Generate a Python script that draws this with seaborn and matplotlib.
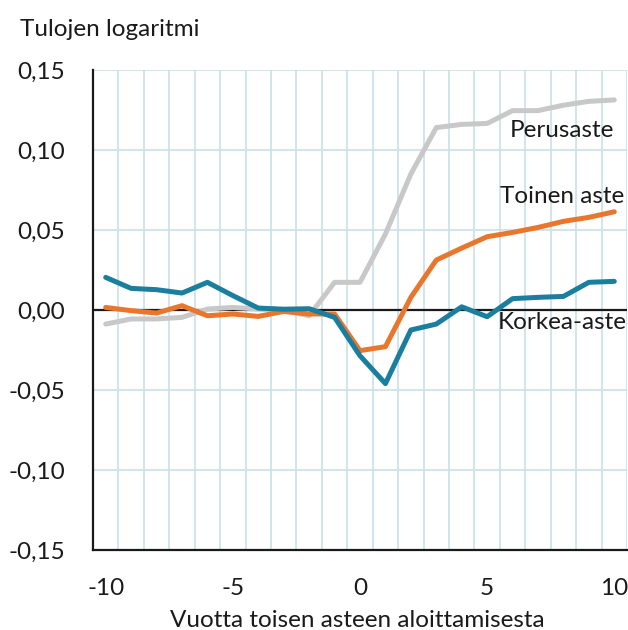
import numpy as np
import pandas as pd
import matplotlib.pyplot as plt
import seaborn as sns

# Data
vuodet = list(range(-10, 11))
perusaste = [-0.0088, -0.0056, -0.0056, -0.0046, 0.0006, 0.0016, 0.0006, -0.0004, -0.0036, 0.0173,
             0.0173, 0.0475, 0.085, 0.114, 0.116, 0.1166, 0.1246, 0.1246, 0.128, 0.1304, 0.1313]
toinen_aste = [0.0016, -0.0004, -0.0019, 0.0027, -0.0036, -0.0025, -0.004, -0.0009, -0.0025, -0.0025,
               -0.0254, -0.0229, 0.0079, 0.0312, 0.0387, 0.0458, 0.0485, 0.0516, 0.0554, 0.0579, 0.0614]
korkea_aste = [0.0204, 0.0135, 0.0127, 0.0106, 0.0173, 0.009, 0.0012, 0.0005, 0.0008, -0.0046,
               -0.0286, -0.046, -0.0125, -0.0088, 0.002, -0.0042, 0.0071, 0.0079, 0.0085, 0.0173, 0.0179]
sarjat = ['Perusaste', 'Toinen aste', 'Korkea-aste']
varit = ['#c8c8c8', '#e8762d', '#1a7f9e']
y_ticks = [-0.15, -0.10, -0.05, 0.0, 0.05, 0.10, 0.15]
# label positions (x, baseline y) next to line ends
nimi_pos = [(7.96, 0.1083), (7.96, 0.0666), (7.96, -0.0117)]

df = pd.DataFrame({
    'vuosi': vuodet * 3,
    'arvo': perusaste + toinen_aste + korkea_aste,
    'sarja': [s for s in sarjat for _ in vuodet],
})

sns.set_style('white')
plt.rcParams['font.family'] = ['Lato', 'DejaVu Sans']
fs = 17.5
txt = '#1a1a1a'

fig = plt.figure(figsize=(6.28, 6.30), dpi=100)
ax = fig.add_axes([93 / 628, 1 - 550 / 630, (627 - 93) / 628, 480 / 630])

sns.lineplot(data=df, x='vuosi', y='arvo', hue='sarja', hue_order=sarjat,
             palette=varit, linewidth=3.6, legend=False, ax=ax, zorder=3)

ax.set_xlim(-10.5, 10.5)
ax.set_ylim(-0.15, 0.15)

# grid: light blue, vertical lines between categories
grid_col = '#c9e0ea'
for x in np.arange(-9.5, 10.6, 1):
    ax.axvline(x, color=grid_col, lw=1.2, zorder=1)
for y in y_ticks[1:]:
    ax.axhline(y, color=grid_col, lw=1.2, zorder=1)
ax.axhline(0, color=txt, lw=1.6, zorder=2)

ax.set_yticks(y_ticks)
ax.set_yticklabels([f'{v:.2f}'.replace('.', ',') for v in y_ticks], fontsize=fs, color=txt)
ax.set_xticks([-10, -5, 0, 5, 10])
ax.set_xticklabels(['-10', '-5', '0', '5', '10'], fontsize=fs, color=txt)
ax.set_xticks(np.arange(-10.5, 10.6, 1), minor=True)
ax.tick_params(axis='x', which='major', length=0, pad=20)
ax.tick_params(axis='x', which='minor', length=5.8, width=1.4, color=txt, direction='out')
ax.tick_params(axis='y', length=5.8, width=1.4, color=txt, direction='out', pad=14)

for s in ['top', 'right']:
    ax.spines[s].set_visible(False)
for s in ['left', 'bottom']:
    ax.spines[s].set_color(txt)
    ax.spines[s].set_linewidth(1.6)
    ax.spines[s].set_zorder(4)

ax.set_xlabel('')
ax.set_ylabel('')
fig.text(357 / 628, 1 - 627 / 630, 'Vuotta toisen asteen aloittamisesta', fontsize=fs, color=txt,
         ha='center', va='baseline')
fig.text(20 / 628, 1 - 36 / 630, 'Tulojen logaritmi', fontsize=fs, color=txt, va='baseline')

for nimi, (x, y) in zip(sarjat, nimi_pos):
    ax.text(x, y, nimi, fontsize=fs, color=txt, ha='center', va='baseline', zorder=5)

plt.savefig('out.png', dpi=100)
